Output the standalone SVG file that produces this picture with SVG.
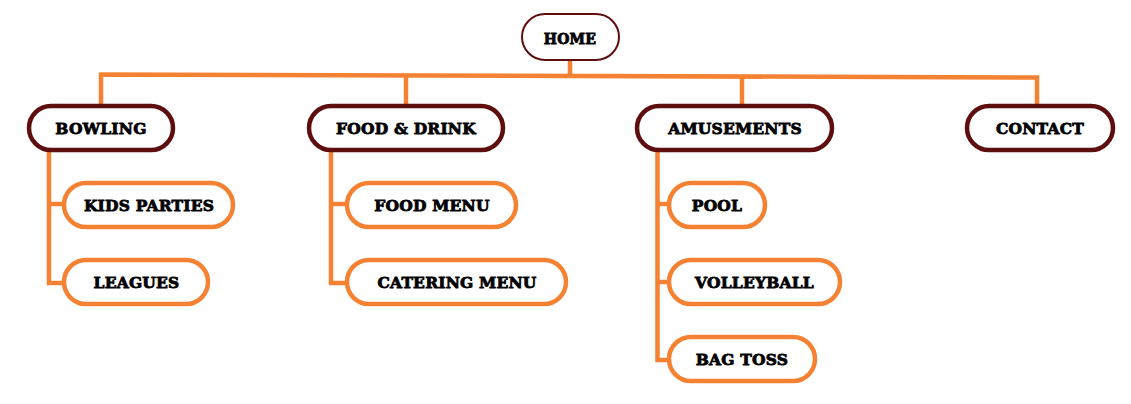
<svg xmlns="http://www.w3.org/2000/svg" width="1131" height="404" viewBox="0 0 1131 404">
<style>
.bg{fill:#ffffff}
.main rect{fill:#ffffff;stroke:#5e0e0e;stroke-width:4.5}
.sub rect{fill:#ffffff;stroke:#f58233;stroke-width:4.5}
.home rect{fill:#ffffff;stroke:#5e0e0e;stroke-width:2}
text{font-family:"DejaVu Serif","Liberation Serif",serif;font-weight:bold;font-size:15.5px;fill:#000;stroke:#000;stroke-width:0.8;text-anchor:middle;letter-spacing:0.2px}
.conn path{fill:none;stroke:#f58233;stroke-width:4.5;stroke-linejoin:miter}
</style>
<rect class="bg" x="0" y="0" width="1131" height="404"/>
<g id="connectors" class="conn">
<path d="M570,60 V75"/>
<path d="M101,106 V74.5 L1037,77.5 V106"/>
<path d="M406,106 V76"/>
<path d="M742,106 V77"/>
<path d="M49,150 V283 H64 M49,204 H64"/>
<path d="M331,150 V283 H347 M331,204 H347"/>
<path d="M657.5,150 V360 H669 M657.5,204 H669 M657.5,282 H669"/>
</g>
<g id="home" class="home"><rect x="522" y="14" width="97" height="46" rx="23"/><text x="570" y="44" style="font-size:14px">HOME</text></g>
<g id="bowling" class="main"><rect x="29" y="106" width="144" height="44" rx="22"/><text x="101" y="134">BOWLING</text></g>
<g id="food-drink" class="main"><rect x="309" y="106" width="194" height="44" rx="22"/><text x="406" y="134">FOOD &amp; DRINK</text></g>
<g id="amusements" class="main"><rect x="637" y="106" width="195" height="44" rx="22"/><text x="735" y="134">AMUSEMENTS</text></g>
<g id="contact" class="main"><rect x="967" y="106" width="146" height="44" rx="22"/><text x="1040" y="134">CONTACT</text></g>
<g id="kids-parties" class="sub"><rect x="64" y="183" width="169" height="44" rx="22"/><text x="149" y="211">KIDS PARTIES</text></g>
<g id="leagues" class="sub"><rect x="64" y="260" width="144" height="44" rx="22"/><text x="136.5" y="288">LEAGUES</text></g>
<g id="food-menu" class="sub"><rect x="347" y="183" width="169" height="44" rx="22"/><text x="432" y="211">FOOD MENU</text></g>
<g id="catering-menu" class="sub"><rect x="347" y="260" width="219" height="44" rx="22"/><text x="457" y="288">CATERING MENU</text></g>
<g id="pool" class="sub"><rect x="669" y="183" width="96" height="44" rx="22"/><text x="717" y="211">POOL</text></g>
<g id="volleyball" class="sub"><rect x="669" y="260" width="171" height="44" rx="22"/><text x="754.5" y="288">VOLLEYBALL</text></g>
<g id="bag-toss" class="sub"><rect x="669" y="337" width="146" height="44" rx="22"/><text x="742" y="365">BAG TOSS</text></g>
</svg>
